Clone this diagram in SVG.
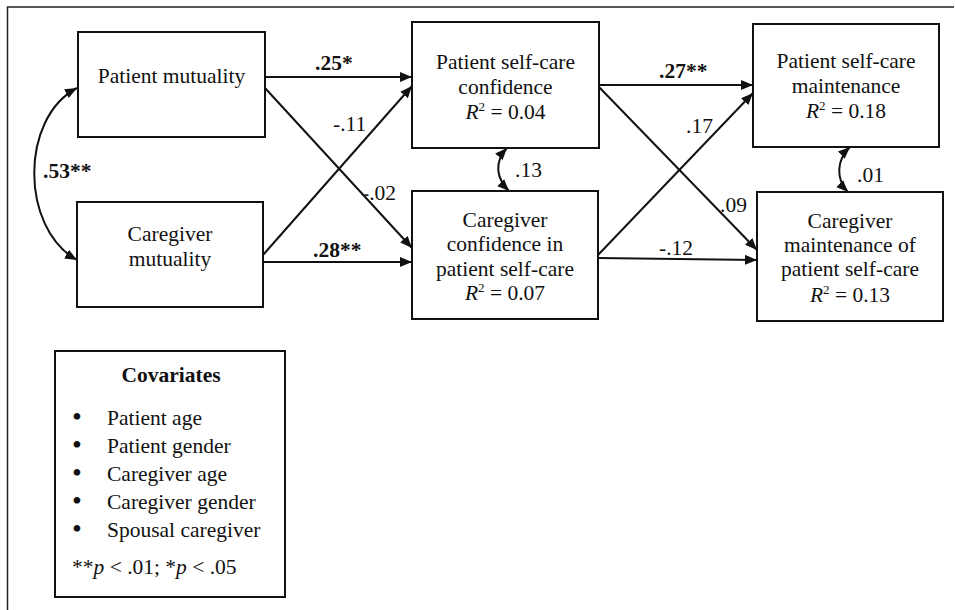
<svg xmlns="http://www.w3.org/2000/svg" width="955" height="610" viewBox="0 0 955 610">
<defs>
<style>
text{font-family:"Liberation Serif","Times New Roman",serif;font-size:21.5px;fill:#111}
.c{text-anchor:middle}
.b{font-weight:bold}
.bu{font-size:28px;text-anchor:middle}
.box{fill:#fff;stroke:#111;stroke-width:2}
.ln{fill:none;stroke:#111;stroke-width:2}
.frame{fill:none;stroke:#222;stroke-width:1.5}
</style>
<marker id="ah" viewBox="0 0 12 10" refX="12" refY="5" markerWidth="12" markerHeight="10" markerUnits="userSpaceOnUse" orient="auto-start-reverse">
<path d="M0,0 L12,5 L0,10 Z" fill="#111"/>
</marker>
</defs>
<rect width="955" height="610" fill="#fff"/>
<path class="frame" d="M954,7 H7.5 V610"/>

<g id="connectors">
<line class="ln" x1="265" y1="77" x2="412" y2="77" marker-end="url(#ah)"/>
<line class="ln" x1="265" y1="88" x2="412" y2="248" marker-end="url(#ah)"/>
<line class="ln" x1="263" y1="255" x2="412" y2="86" marker-end="url(#ah)"/>
<line class="ln" x1="263" y1="262" x2="412" y2="262" marker-end="url(#ah)"/>
<line class="ln" x1="599" y1="85" x2="753" y2="85" marker-end="url(#ah)"/>
<line class="ln" x1="599" y1="87" x2="757" y2="250" marker-end="url(#ah)"/>
<line class="ln" x1="598" y1="255" x2="753" y2="93" marker-end="url(#ah)"/>
<line class="ln" x1="598" y1="258" x2="757" y2="260" marker-end="url(#ah)"/>
<path class="ln" d="M77,88 C20,118 20,228 77,260" marker-start="url(#ah)" marker-end="url(#ah)"/>
<path class="ln" d="M507,148 C494,162 496,178 509,191" marker-start="url(#ah)" marker-end="url(#ah)"/>
<path class="ln" d="M850,147 C836,160 836,180 848,192" marker-start="url(#ah)" marker-end="url(#ah)"/>
<text class="b" x="315" y="70">.25*</text>
<text x="333" y="131">-.11</text>
<text x="362" y="200">-.02</text>
<text class="b" x="313" y="257">.28**</text>
<text class="b" x="43" y="178">.53**</text>
<text x="515" y="177">.13</text>
<text class="b" x="659" y="78">.27**</text>
<text x="686" y="133">.17</text>
<text x="720" y="212">.09</text>
<text x="659" y="255">-.12</text>
<text x="857" y="182">.01</text>
</g>

<g id="patient-mutuality">
<rect class="box" x="78" y="32" width="187" height="105"/>
<text class="c" x="171.5" y="83">Patient mutuality</text>
</g>

<g id="caregiver-mutuality">
<rect class="box" x="77" y="202" width="186" height="105"/>
<text class="c" x="170" y="241">Caregiver</text>
<text class="c" x="170" y="266">mutuality</text>
</g>

<g id="patient-confidence">
<rect class="box" x="412" y="22" width="187" height="126"/>
<text class="c" x="505.5" y="69">Patient self-care</text>
<text class="c" x="505.5" y="94">confidence</text>
<text class="c" x="505.5" y="119"><tspan font-style="italic">R</tspan><tspan dy="-8" font-size="13">2</tspan><tspan dy="8"> = 0.04</tspan></text>
</g>

<g id="caregiver-confidence">
<rect class="box" x="412" y="191" width="186" height="128"/>
<text class="c" x="505" y="227">Caregiver</text>
<text class="c" x="505" y="251">confidence in</text>
<text class="c" x="505" y="275.5">patient self-care</text>
<text class="c" x="505" y="300"><tspan font-style="italic">R</tspan><tspan dy="-8" font-size="13">2</tspan><tspan dy="8"> = 0.07</tspan></text>
</g>

<g id="patient-maintenance">
<rect class="box" x="753" y="24" width="186" height="123"/>
<text class="c" x="846" y="68">Patient self-care</text>
<text class="c" x="846" y="93">maintenance</text>
<text class="c" x="846" y="118"><tspan font-style="italic">R</tspan><tspan dy="-8" font-size="13">2</tspan><tspan dy="8"> = 0.18</tspan></text>
</g>

<g id="caregiver-maintenance">
<rect class="box" x="757" y="192" width="186" height="129"/>
<text class="c" x="850" y="228">Caregiver</text>
<text class="c" x="850" y="252">maintenance of</text>
<text class="c" x="850" y="276">patient self-care</text>
<text class="c" x="850" y="302"><tspan font-style="italic">R</tspan><tspan dy="-8" font-size="13">2</tspan><tspan dy="8"> = 0.13</tspan></text>
</g>

<g id="covariates">
<rect class="box" x="55" y="351" width="230" height="246"/>
<text class="c b" x="171" y="382">Covariates</text>
<text class="bu" x="77" y="426">•</text><text x="107" y="425">Patient age</text>
<text class="bu" x="77" y="454">•</text><text x="107" y="453">Patient gender</text>
<text class="bu" x="77" y="482">•</text><text x="107" y="481">Caregiver age</text>
<text class="bu" x="77" y="510">•</text><text x="107" y="509">Caregiver gender</text>
<text class="bu" x="77" y="538">•</text><text x="107" y="537">Spousal caregiver</text>
<text x="72" y="574">**<tspan font-style="italic">p</tspan> &lt; .01; *<tspan font-style="italic">p</tspan> &lt; .05</text>
</g>
</svg>
